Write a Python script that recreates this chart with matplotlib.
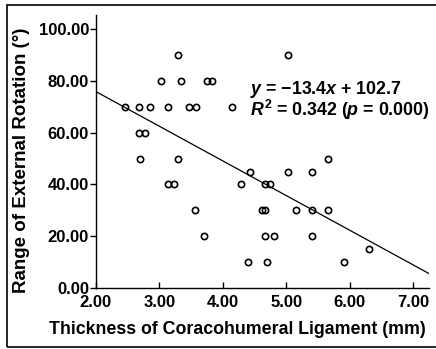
import matplotlib
matplotlib.use("Agg")
import matplotlib.pyplot as plt
from matplotlib.patches import Rectangle
import numpy as np

plt.rcParams['font.family'] = ['Liberation Sans', 'DejaVu Sans']
plt.rcParams['font.weight'] = 'bold'
plt.rcParams['mathtext.fontset'] = 'custom'
plt.rcParams['mathtext.rm'] = 'Liberation Sans:bold'
plt.rcParams['mathtext.it'] = 'Liberation Sans:italic:bold'
plt.rcParams['mathtext.bf'] = 'Liberation Sans:bold'

thickness = [2.46, 2.68, 2.86, 3.13, 3.46, 3.57, 4.15,
             2.68, 2.78, 2.70, 3.29,
             3.30, 5.03,
             3.02, 3.34, 3.75, 3.83,
             4.43, 5.03, 5.41, 5.65,
             4.28, 4.66, 4.74, 3.14, 3.23,
             3.56, 4.62, 4.67, 5.15, 5.40, 5.65,
             3.70, 4.67, 4.80, 5.40,
             4.40, 4.70, 5.91, 6.31]
rotation = [70, 70, 70, 70, 70, 70, 70,
            60, 60, 50, 50,
            90, 90,
            80, 80, 80, 80,
            45, 45, 45, 50,
            40, 40, 40, 40, 40,
            30, 30, 30, 30, 30, 30,
            20, 20, 20, 20,
            10, 10, 10, 15]

slope = -13.4
intercept = 102.7
xticks = [2, 3, 4, 5, 6, 7]
yticks = [0, 20, 40, 60, 80, 100]

fig = plt.figure(figsize=(4.36, 3.49), dpi=100)
ax = fig.add_axes([0.220, 0.175, 0.764, 0.782])

ax.plot(thickness, rotation, linestyle='none', marker='o', ms=4.5,
        mfc='none', mec='black', mew=1.2)

xl = np.array([2.0, 7.25])
ax.plot(xl, slope * xl + intercept, color='black', lw=0.9)

ax.set_xlim(2.0, 7.25)
ax.set_ylim(0, 105.5)
ax.set_xticks(xticks)
ax.set_yticks(yticks)
ax.set_xticklabels([f"{v:.2f}" for v in xticks])
ax.set_yticklabels([f"{v:.2f}" for v in yticks])
for s in ['top', 'right']:
    ax.spines[s].set_visible(False)
for s in ['left', 'bottom']:
    ax.spines[s].set_linewidth(1.0)
ax.tick_params(axis='y', direction='out', length=4, width=1.0, labelsize=12, pad=1)
ax.tick_params(axis='x', direction='in', length=4, width=1.0, labelsize=12, pad=5)

ax.set_xlabel('Thickness of Coracohumeral Ligament (mm)', fontsize=12.8, fontweight='bold')
ax.xaxis.set_label_coords(0.426, -0.122)
ax.set_ylabel('Range of External Rotation (°)', fontsize=13.5, fontweight='bold')
ax.yaxis.set_label_coords(-0.198, 0.469)

ax.text(4.43, 76.7, r'$y$ = −13.4$x$ + 102.7', fontsize=12.8, fontweight='bold', va='center', ha='left')
ax.text(4.43, 68.7, r'$R^2$ = 0.342 ($p$ = 0.000)', fontsize=12.8, fontweight='bold', va='center', ha='left')

fig.patches.append(Rectangle((7/436, 1 - 347/349), 1.0, (347 - 5)/349,
                             transform=fig.transFigure, fill=False,
                             edgecolor='black', lw=1.2, clip_on=False))

fig.savefig('out.png', dpi=100)
